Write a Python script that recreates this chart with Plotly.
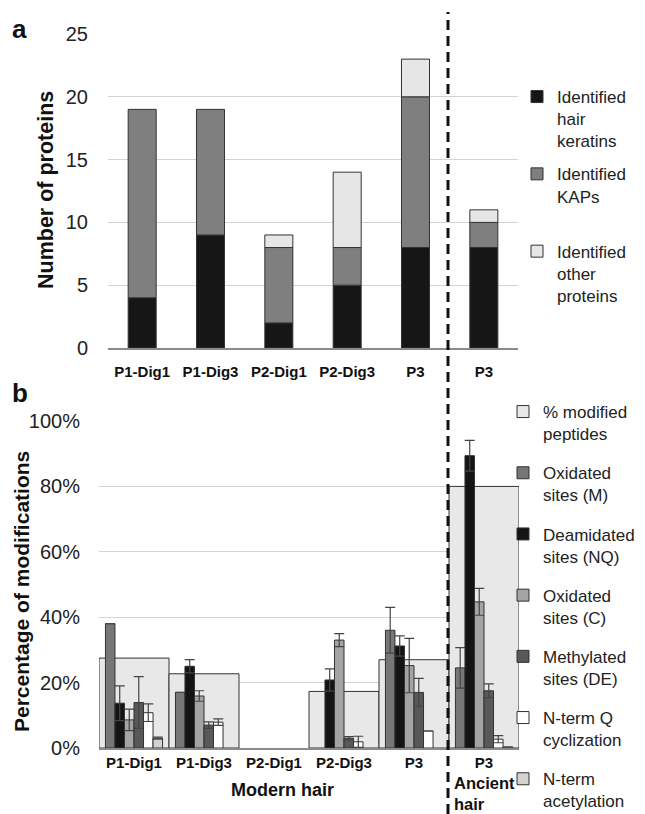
import plotly.graph_objects as go

# ---------------- data ----------------
cat_ids = ["P1-Dig1", "P1-Dig3", "P2-Dig1", "P2-Dig3", "P3 modern", "P3 ancient"]
cat_labels = ["P1-Dig1", "P1-Dig3", "P2-Dig1", "P2-Dig3", "P3", "P3"]

# panel a: number of identified proteins (stacked)
keratins = [4, 9, 2, 5, 8, 8]
kaps = [15, 10, 6, 3, 12, 2]
other_proteins = [0, 0, 1, 6, 3, 1]

# panel b: percentage of modifications
modified_peptides = [27.5, 22.7, 0, 17.3, 27.0, 80.0]
ox_m = [38.0, 17.0, 0, 0, 36.0, 24.5]
ox_m_err = [0, 0, 0, 0, 7.0, 6.2]
deam = [13.7, 25.0, 0, 20.8, 31.2, 89.4]
deam_err = [5.3, 2.0, 0, 3.4, 3.1, 4.7]
ox_c = [8.6, 15.9, 0, 33.0, 25.2, 44.7]
ox_c_err = [3.3, 1.6, 0, 2.0, 8.3, 4.1]
meth = [13.9, 7.0, 0, 3.0, 17.0, 17.5]
meth_err = [7.9, 1.0, 0, 0.5, 4.3, 2.1]
qcyc = [10.8, 7.9, 0, 1.9, 5.2, 2.7]
qcyc_err = [2.7, 1.0, 0, 1.7, 0, 1.1]
acet = [3.0, 0, 0, 0, 0, 0.3]
acet_err = [0.3, 0, 0, 0, 0, 0]

FONT = "Liberation Sans, Arial, sans-serif"
OUT = "#333333"


def nz(vals):
    return [v if v > 0 else None for v in vals]


fig = go.Figure()

# ---------------- panel a ----------------
base_kaps = keratins
base_other = [k + p for k, p in zip(keratins, kaps)]
wa = 0.41
for name, vals, base, col in [
    ("Identified<br>hair<br>keratins", keratins, None, "#161616"),
    ("Identified<br>KAPs<br> ", kaps, base_kaps, "#7f7f7f"),
    ("Identified<br>other<br>proteins", other_proteins, base_other, "#e6e6e6"),
]:
    fig.add_trace(go.Bar(
        x=cat_ids, y=nz(vals), base=base, name=name, width=wa, offset=-wa / 2,
        marker=dict(color=col, line=dict(color=OUT, width=1)),
        xaxis="x", yaxis="y", legend="legend", legendgroup=name,
    ))

# ---------------- panel b ----------------
fig.add_trace(go.Bar(
    x=cat_ids, y=nz(modified_peptides), name="% modified<br>peptides", width=1.0, offset=-0.5,
    marker=dict(color="#e8e8e8", line=dict(color=OUT, width=1)),
    xaxis="x2", yaxis="y2", legend="legend2", legendgroup="b0",
))
wb = 0.136
series_b = [
    ("Oxidated<br>sites (M)", ox_m, ox_m_err, "#777777"),
    ("Deamidated<br>sites (NQ)", deam, deam_err, "#141414"),
    ("Oxidated<br>sites (C)", ox_c, ox_c_err, "#a4a4a4"),
    ("Methylated<br>sites (DE)", meth, meth_err, "#585858"),
    ("N-term Q<br>cyclization", qcyc, qcyc_err, "#ffffff"),
    ("N-term<br>acetylation", acet, acet_err, "#d2d2d2"),
]
for i, (name, vals, err, col) in enumerate(series_b):
    fig.add_trace(go.Bar(
        x=cat_ids, y=nz(vals), name=name,
        width=wb, offset=-0.408 + i * wb,
        marker=dict(color=col, line=dict(color=OUT, width=1)),
        error_y=dict(type="data", array=err, visible=True, color="#444444",
                     thickness=1.2, width=5),
        xaxis="x2", yaxis="y2", legend="legend2", legendgroup="b%d" % (i + 1),
    ))

W, H = 645, 814
tickfont = dict(family=FONT, size=20, color="#222222")
catfont = dict(family=FONT, size=15, color="#111111", weight="bold")

fig.update_layout(
    width=W, height=H,
    margin=dict(l=0, r=0, t=0, b=0, autoexpand=False),
    paper_bgcolor="white", plot_bgcolor="white",
    barmode="overlay",
    font=dict(family=FONT, color="#222222"),
    xaxis=dict(domain=[108 / W, 518 / W], anchor="y", type="category",
               categoryorder="array", categoryarray=cat_ids,
               tickvals=cat_ids, ticktext=cat_labels, tickfont=catfont,
               ticks="", ticklabelstandoff=9, range=[-0.5, 5.5],
               showline=True, linecolor="#8a8a8a", linewidth=1.5,
               showgrid=False, zeroline=False, fixedrange=True),
    yaxis=dict(domain=[(H - 348) / H, (H - 34) / H], anchor="x",
               range=[0, 25], dtick=5, tickfont=tickfont,
               ticklabelstandoff=19, gridcolor="#d3d3d3", gridwidth=1.3,
               showline=False, zeroline=False),
    xaxis2=dict(domain=[99 / W, 519 / W], anchor="y2", type="category",
                categoryorder="array", categoryarray=cat_ids,
                tickvals=cat_ids, ticktext=cat_labels, tickfont=catfont,
                ticks="", ticklabelstandoff=0, range=[-0.5, 5.5],
                showline=True, linecolor="#8a8a8a", linewidth=1.5,
                showgrid=False, zeroline=False),
    yaxis2=dict(domain=[(H - 748) / H, (H - 421) / H], anchor="x2",
                range=[0, 100], dtick=20, ticksuffix="%", tickfont=tickfont,
                ticklabelstandoff=18, gridcolor="#d3d3d3", gridwidth=1.3,
                showline=False, zeroline=False),
    legend=dict(x=517 / W, y=(H - 79) / H, xanchor="left", yanchor="top",
                font=dict(family=FONT, size=17, color="#222222"),
                valign="top", tracegroupgap=8, bgcolor="rgba(0,0,0,0)",
                traceorder="grouped"),
    legend2=dict(x=503 / W, y=(H - 394) / H, xanchor="left", yanchor="top",
                 font=dict(family=FONT, size=17, color="#222222"),
                 valign="top", tracegroupgap=14, bgcolor="rgba(0,0,0,0)",
                 traceorder="grouped"),
    showlegend=True,
)

# dashed separator
fig.add_shape(type="line", xref="paper", yref="paper",
              x0=448 / W, x1=448 / W, y0=0, y1=(H - 12) / H,
              line=dict(color="#111111", width=3, dash="10px,6px"))

ann = []
ann.append(dict(text="<b>a</b>", x=10 / W, y=(H - 12) / H, xref="paper", yref="paper",
                xanchor="left", yanchor="top", showarrow=False,
                font=dict(family=FONT, size=26, color="#111111")))
ann.append(dict(text="<b>b</b>", x=10 / W, y=(H - 376) / H, xref="paper", yref="paper",
                xanchor="left", yanchor="top", showarrow=False,
                font=dict(family=FONT, size=26, color="#111111")))
ann.append(dict(text="<b>Number of proteins</b>", x=46 / W, y=(H - 190) / H,
                xref="paper", yref="paper", textangle=-90, showarrow=False,
                xanchor="center", yanchor="middle",
                font=dict(family=FONT, size=21.5, color="#111111")))
ann.append(dict(text="<b>Percentage of modifications</b>", x=21 / W, y=(H - 592) / H,
                xref="paper", yref="paper", textangle=-90, showarrow=False,
                xanchor="center", yanchor="middle",
                font=dict(family=FONT, size=21, color="#111111")))
ann.append(dict(text="<b>Modern hair</b>", x=282 / W, y=(H - 790) / H,
                xref="paper", yref="paper", showarrow=False,
                xanchor="center", yanchor="middle",
                font=dict(family=FONT, size=18, color="#111111")))
ann.append(dict(text="<b>Ancient<br>hair</b>", x=453 / W, y=0,
                xref="paper", yref="paper", showarrow=False, align="left",
                xanchor="left", yanchor="bottom", borderpad=0,
                font=dict(family=FONT, size=16.5, color="#111111")))
fig.update_layout(annotations=ann)

fig.write_html("out.html", config={"displayModeBar": False},
               post_script="document.body.style.margin='0';document.body.style.overflow='hidden';")
